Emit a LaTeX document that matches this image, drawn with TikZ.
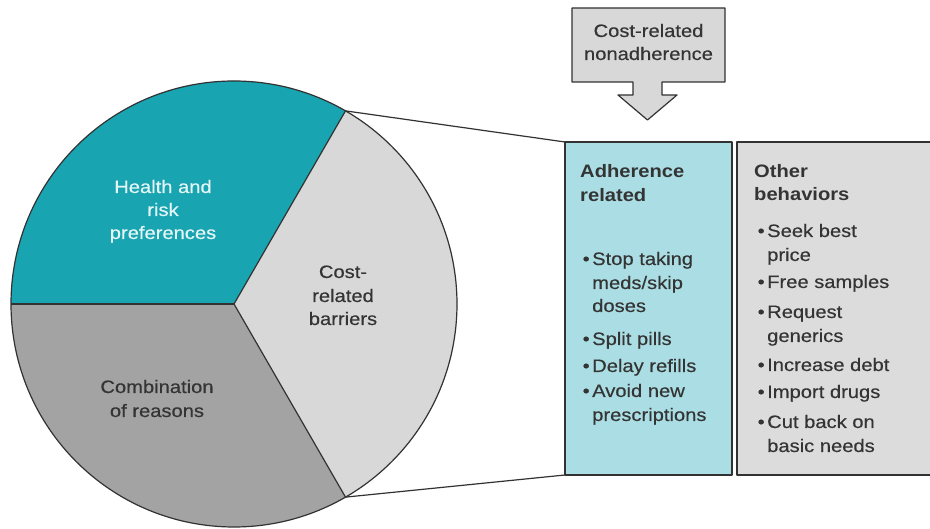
\documentclass[tikz,border=0pt]{standalone}
\usepackage{fontspec}
\usetikzlibrary{calc}
\setmainfont{Liberation Sans}[FakeStretch=1.12, UprightFeatures={FakeBold=0.35}]
\definecolor{tealslice}{RGB}{25,164,178}
\definecolor{lightslice}{RGB}{216,216,216}
\definecolor{darkslice}{RGB}{163,163,163}
\definecolor{adhfill}{RGB}{170,222,228}
\definecolor{otherfill}{RGB}{220,220,220}
\definecolor{arrowfill}{RGB}{216,216,216}
\definecolor{outline}{RGB}{50,50,50}
\definecolor{inktext}{RGB}{52,52,52}
\definecolor{paletext}{RGB}{228,246,246}
\tikzset{
  edge/.style={draw=outline, line width=1.2pt, line join=round},
  txt/.style={inner sep=0pt, font=\fontsize{18}{23.5}\selectfont, text=inktext},
  pielabel/.style={txt, align=center, anchor=base},
  textline/.style={txt, anchor=base west},
  headline/.style={textline, font=\fontsize{18}{23.5}\selectfont\bfseries},
  itemline/.style={textline, execute at begin node={\llap{\textbullet\hspace{2.5pt}}}},
}
\begin{document}
\begin{tikzpicture}[x=1pt, y=1pt]
\useasboundingbox (0,0) rectangle (930,528);
\fill[white] (0,0) rectangle (930,528);

% pie: three equal slices around the centre
\coordinate (c) at (234,224);
\def\R{223pt}
\fill[lightslice] (c) -- ++(-60:\R) arc[start angle=-60, end angle=60, radius=\R] -- cycle;
\fill[tealslice] (c) -- ++(60:\R) arc[start angle=60, end angle=180, radius=\R] -- cycle;
\fill[darkslice] (c) -- ++(180:\R) arc[start angle=180, end angle=300, radius=\R] -- cycle;
\draw[edge] (c) circle[radius=\R];
\coordinate (ptop) at ($(c)+(60:\R)$);
\coordinate (pbot) at ($(c)+(-60:\R)$);
\coordinate (pleft) at ($(c)+(180:\R)$);
\draw[edge] (ptop) -- (c) -- (pbot);
\draw[edge] (c) -- (pleft);

% boxes on the right
\fill[adhfill] (565,386) rectangle (732,53);
\draw[edge] (565,386) rectangle (732,53);
\coordinate (adhtl) at (565,386);
\coordinate (adhbl) at (565,53);
\fill[otherfill] (737,386) rectangle (930,53);
\draw[edge] (932,386) -- (737,386) -- (737,53) -- (932,53);

% zoom lines from the cost slice to the first box
\draw[edge] (ptop) -- (adhtl);
\draw[edge] (pbot) -- (adhbl);

% arrow box at the top
\draw[edge, fill=arrowfill] (572,520) -- (725,520) -- (725,446) -- (662,446) -- (662,433)
  -- (677,433) -- (647.5,408) -- (618,433) -- (633,433) -- (633,446) -- (572,446) -- cycle;
\node[pielabel] (cost1) at (648.5,491) {Cost-related};
\node[pielabel] (cost2) at (648.5,468) {nonadherence};

% pie labels
\node[pielabel, text=paletext] (h1) at (163,335) {Health and};
\node[pielabel, text=paletext] (h2) at (163,312) {risk};
\node[pielabel, text=paletext] (h3) at (163,289) {preferences};
\node[pielabel] (b1) at (343,250) {Cost-};
\node[pielabel] (b2) at (343,226) {related};
\node[pielabel] (b3) at (343,203) {barriers};
\node[pielabel] (r1) at (157,135) {Combination};
\node[pielabel] (r2) at (157,111) {of reasons};

% adherence related
\node[headline] (ah1) at (580,350) {Adherence};
\node[headline] (ah2) at (580,326) {related};
\node[itemline] (a1) at (592,263) {Stop taking};
\node[textline] (a1b) at (592,239) {meds/skip};
\node[textline] (a1c) at (592,216) {doses};
\node[itemline] (a2) at (592,183) {Split pills};
\node[itemline] (a3) at (592,156) {Delay refills};
\node[itemline] (a4) at (592,131) {Avoid new};
\node[textline] (a4b) at (592,107) {prescriptions};

% other behaviors
\node[headline] (oh1) at (754,350) {Other};
\node[headline] (oh2) at (754,327) {behaviors};
\node[itemline] (o1) at (767,291) {Seek best};
\node[textline] (o1b) at (767,267) {price};
\node[itemline] (o2) at (767,240) {Free samples};
\node[itemline] (o3) at (767,210) {Request};
\node[textline] (o3b) at (767,186) {generics};
\node[itemline] (o4) at (767,157) {Increase debt};
\node[itemline] (o5) at (767,130) {Import drugs};
\node[itemline] (o6) at (767,100) {Cut back on};
\node[textline] (o6b) at (767,76) {basic needs};
\end{tikzpicture}
\end{document}
